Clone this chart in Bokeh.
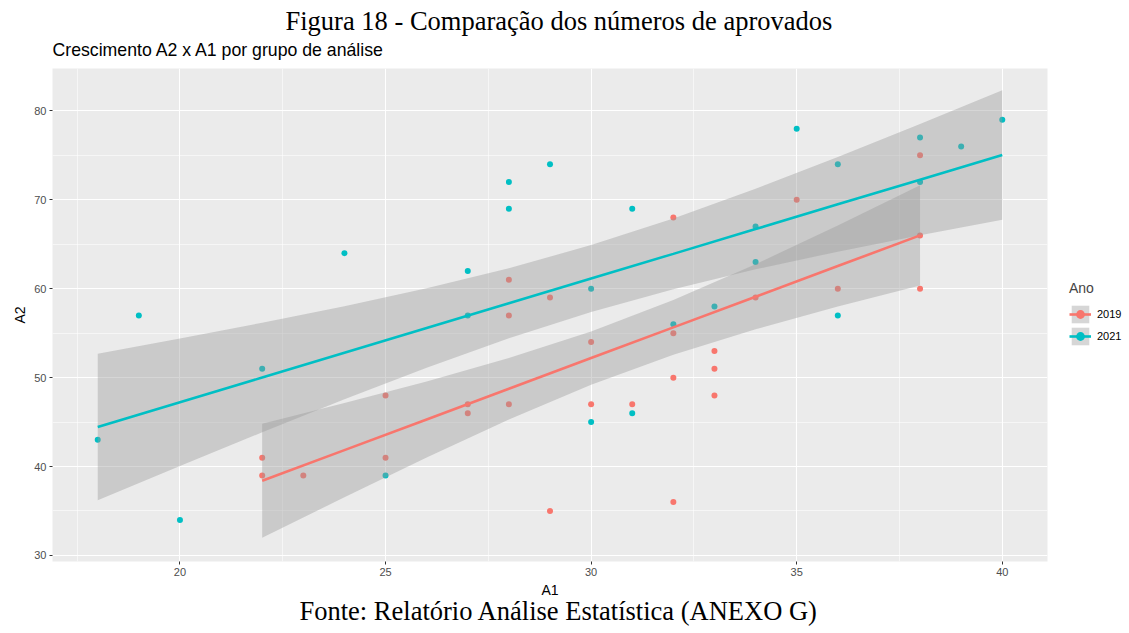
from bokeh.plotting import figure
from bokeh.layouts import row
from bokeh.models import (Range1d, FixedTicker, Title, Legend, LegendItem,
                          ColumnDataSource)
from bokeh.embed import file_html
from bokeh.resources import INLINE

# ---- data ----
x_2019 = [22, 22, 23, 25, 25, 27, 27, 28, 28, 28, 29, 29, 30, 30, 31, 32, 32, 32,
          32, 33, 33, 33, 34, 35, 36, 38, 38, 38]
y_2019 = [41, 39, 39, 48, 41, 47, 46, 61, 57, 47, 59, 35, 54, 47, 47, 68, 55, 50,
          36, 53, 51, 48, 59, 70, 60, 75, 66, 60]
x_2021 = [18, 19, 20, 22, 24, 25, 27, 27, 28, 28, 29, 30, 30, 31, 31, 32, 33, 34,
          34, 35, 36, 36, 38, 38, 39, 40]
y_2021 = [43, 57, 34, 51, 64, 39, 62, 57, 72, 69, 74, 60, 45, 69, 46, 56, 58, 67,
          63, 78, 74, 57, 77, 72, 76, 79]

# fitted lines and 95% bands
fit_x_2019 = [22, 24, 26, 28, 30, 32, 34, 36, 38]
fit_2019 = [38.40, 41.85, 45.30, 48.75, 52.20, 55.65, 59.10, 62.55, 66.00]
fit_hi_2019 = [44.82, 47.15, 49.57, 52.20, 55.19, 58.73, 62.76, 67.11, 71.63]
fit_lo_2019 = [31.98, 36.55, 41.03, 45.30, 49.21, 52.57, 55.44, 57.99, 60.37]

fit_x_2021 = [18, 20, 22, 24, 26, 28, 30, 32, 34, 36, 38, 40]
fit_2021 = [44.45, 47.23, 50.01, 52.80, 55.58, 58.36, 61.14, 63.92, 66.71,
            69.49, 72.27, 75.05]
fit_hi_2021 = [52.70, 54.40, 56.17, 58.03, 60.05, 62.30, 64.91, 67.90, 71.24,
               74.81, 78.52, 82.33]
fit_lo_2021 = [36.20, 40.06, 43.85, 47.57, 51.11, 54.42, 57.37, 59.94, 62.18,
               64.17, 66.02, 67.77]

years = ["2019", "2021"]
colors = ["#F8766D", "#00BFC4"]

x_ticks = [20, 25, 30, 35, 40]
x_minor = [17.5, 22.5, 27.5, 32.5, 37.5]
y_ticks = [30, 40, 50, 60, 70, 80]
y_minor = [35, 45, 55, 65, 75]

title_text = "Figura 18 - Comparação dos números de aprovados"
subtitle_text = "Crescimento A2 x A1 por grupo de análise"
footer_text = "Fonte: Relatório Análise Estatística (ANEXO G)"
legend_title = "Ano"

SANS = "Liberation Sans"
SERIF = "Liberation Serif"
BAND_FILL = "#999999"
BAND_ALPHA = 0.4

p = figure(width=1050, height=633, output_backend="svg", toolbar_location=None,
           x_range=Range1d(16.9, 41.1), y_range=Range1d(29.32, 84.77),
           min_border_left=52, min_border_right=3, min_border_top=68,
           min_border_bottom=72)
p.background_fill_color = "#EBEBEB"
p.border_fill_color = "white"
p.outline_line_color = None

# grid
p.xaxis.ticker = FixedTicker(ticks=x_ticks, minor_ticks=x_minor)
p.yaxis.ticker = FixedTicker(ticks=y_ticks, minor_ticks=y_minor)
for g in (p.xgrid, p.ygrid):
    g.grid_line_color = "white"
    g.grid_line_width = 1.1
    g.minor_grid_line_color = "white"
    g.minor_grid_line_width = 0.55

# axes
for ax in (p.xaxis, p.yaxis):
    ax.axis_line_color = None
    ax.major_tick_line_color = "#333333"
    ax.major_tick_line_width = 1
    ax.major_tick_out = 3
    ax.major_tick_in = 0
    ax.minor_tick_line_color = None
    ax.major_label_text_font = SANS
    ax.major_label_text_font_size = "11px"
    ax.major_label_text_color = "#4D4D4D"
    ax.major_label_standoff = 2
    ax.axis_label_text_font = SANS
    ax.axis_label_text_font_size = "14px"
    ax.axis_label_text_font_style = "normal"
    ax.axis_label_text_color = "black"
    ax.axis_label_standoff = 3
p.xaxis.axis_label = "A1"
p.yaxis.axis_label = "A2"

# points
for xs, ys, c in zip([x_2019, x_2021], [y_2019, y_2021], colors):
    p.scatter(xs, ys, size=6, fill_color=c, line_color=None)

# bands (drawn over points, as in the reference), then fitted lines
fits = [
    ColumnDataSource(dict(x=fit_x_2019, y=fit_2019, lo=fit_lo_2019, hi=fit_hi_2019)),
    ColumnDataSource(dict(x=fit_x_2021, y=fit_2021, lo=fit_lo_2021, hi=fit_hi_2021)),
]
for src in fits:
    p.varea(x="x", y1="lo", y2="hi", source=src,
            fill_color=BAND_FILL, fill_alpha=BAND_ALPHA)
for src, c in zip(fits, colors):
    p.line(x="x", y="y", source=src, line_color=c, line_width=2.6)

# titles
sub = Title(text=subtitle_text, align="left", text_font=SANS,
            text_font_size="17.7px", text_font_style="normal",
            text_color="black", standoff=18)
main = Title(text=title_text, align="left", offset=233, text_font=SERIF,
             text_font_size="26.5px", text_font_style="normal",
             text_color="black", standoff=-14)
p.add_layout(sub, "above")
p.add_layout(main, "above")
foot = Title(text=footer_text, align="left", offset=247, text_font=SERIF,
             text_font_size="26.5px", text_font_style="normal",
             text_color="black", standoff=-13)
p.add_layout(foot, "below")

# ---- legend in its own narrow figure at the right ----
lg = figure(width=79, height=633, output_backend="svg", toolbar_location=None,
            x_range=Range1d(0, 1), y_range=Range1d(0, 1),
            min_border=0, min_border_left=0, min_border_right=0,
            min_border_top=0, min_border_bottom=0)
lg.axis.visible = False
lg.grid.visible = False
lg.outline_line_color = None
lg.background_fill_color = "white"
lg.border_fill_color = "white"
items = []
for yr, c in zip(years, colors):
    # off-screen stand-ins that only supply the legend swatches
    rb = lg.varea(x=[-9, -8], y1=[-9, -9], y2=[-8, -8],
                  fill_color=BAND_FILL, fill_alpha=BAND_ALPHA)
    rl = lg.line(x=[-9, -8], y=[-9, -8], line_color=c, line_width=2.6)
    rs = lg.scatter(x=[-9], y=[-9], size=6, fill_color=c, line_color=None)
    items.append(LegendItem(label=yr, renderers=[rb, rl, rs]))
legend = Legend(items=items, location=(19, 214), title=legend_title,
                title_text_font=SANS, title_text_font_size="14px",
                title_text_font_style="normal", title_standoff=7,
                label_text_font=SANS, label_text_font_size="11px",
                label_text_color="black", label_standoff=6,
                glyph_width=22, glyph_height=22, label_height=22,
                label_width=20, spacing=0, padding=0, margin=0,
                background_fill_alpha=0, border_line_color=None)
lg.add_layout(legend)

layout = row(p, lg, spacing=0)
open("out.html", "w").write(file_html(layout, INLINE))
